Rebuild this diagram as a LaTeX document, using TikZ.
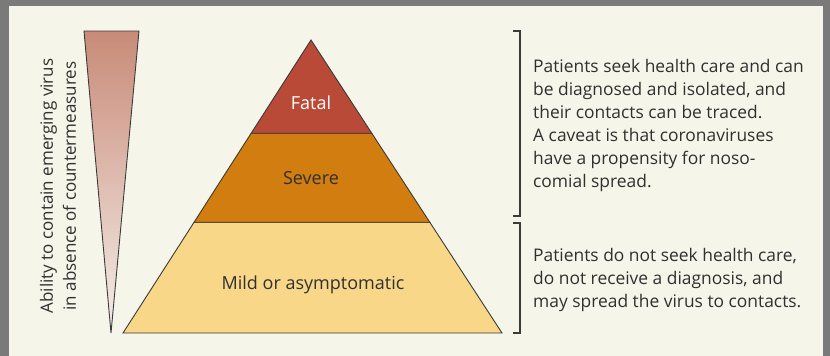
\documentclass[tikz,border=0pt]{standalone}
\usepackage{fontspec}
\setmainfont{Open Sans}
\usetikzlibrary{calc}
\definecolor{cadre}{HTML}{7A7A7A}
\definecolor{fond}{HTML}{F5F5EA}
\definecolor{fatal}{HTML}{B94A37}
\definecolor{severe}{HTML}{D27D10}
\definecolor{mild}{HTML}{F9D788}
\definecolor{trait}{HTML}{3A3A3A}
\definecolor{texte}{HTML}{303030}
\definecolor{coinhaut}{HTML}{C88B78}
\definecolor{coinbas}{HTML}{F5EEEA}
\tikzset{
  etage/.style={draw=trait, line width=0.9pt},
  etiquette/.style={font=\fontsize{18}{20}\selectfont, text=texte},
  crochet/.style={draw=trait, line width=1.1pt},
  legende/.style={font=\fontsize{17.4}{23}\selectfont, text=texte,
    align=left, anchor=west, inner sep=0pt},
}
\begin{document}
\begin{tikzpicture}[x=1pt, y=-1pt]
    \useasboundingbox (0,0) rectangle (830,356);
    % cadre
    \fill[cadre] (0,0) rectangle (830,356);
    \fill[fond] (9,6) rectangle (823,360);
    % coin de confinement
    \path (84,31) coordinate (w1);
    \path (139,31) coordinate (w2);
    \path (111,333) coordinate (w3);
    \shade[top color=coinhaut, bottom color=coinbas] (w1) -- (w2) -- (w3) -- cycle;
    \draw[trait, line width=0.9pt, line join=miter] (w1) -- (w2) -- (w3) -- cycle;
    \node[etiquette, rotate=90, align=center, font=\fontsize{17}{23}\selectfont]
      (capacite) at (58,186) {Ability to contain emerging virus\\in absence of countermeasures};
    % pyramide
    \path (311,40) coordinate (sommet);
    \path (123,333) coordinate (bg);
    \path (502,333) coordinate (bd);
    \path ($(sommet)!0.3184!(bg)$) coordinate (f1);
    \path ($(sommet)!0.3184!(bd)$) coordinate (f2);
    \path ($(sommet)!0.622!(bg)$) coordinate (s1);
    \path ($(sommet)!0.622!(bd)$) coordinate (s2);
    \filldraw[etage, fill=mild] (s1) -- (s2) -- (bd) -- (bg) -- cycle;
    \filldraw[etage, fill=severe] (f1) -- (f2) -- (s2) -- (s1) -- cycle;
    \filldraw[etage, fill=fatal] (sommet) -- (f2) -- (f1) -- cycle;
    \node[etiquette, text=white] (fatal) at (311,103) {Fatal};
    \node[etiquette] (severe) at (311,178) {Severe};
    \node[etiquette] (mild) at (313,285) {Mild or asymptomatic};
    % crochets
    \draw[crochet] (513,31) -- (520,31) -- (520,216) -- (513,216);
    \draw[crochet] (513,223) -- (520,223) -- (520,333) -- (513,333);
    % textes
    \node[legende] (haut) at (533,125) {Patients seek health care and can\\
      be diagnosed and isolated, and\\their contacts can be traced.\\
      A caveat is that coronaviruses\\have a propensity for noso-\\comial spread.};
    \node[legende] (bas) at (533,280) {Patients do not seek health care,\\
      do not receive a diagnosis, and\\may spread the virus to contacts.};
\end{tikzpicture}
\end{document}
